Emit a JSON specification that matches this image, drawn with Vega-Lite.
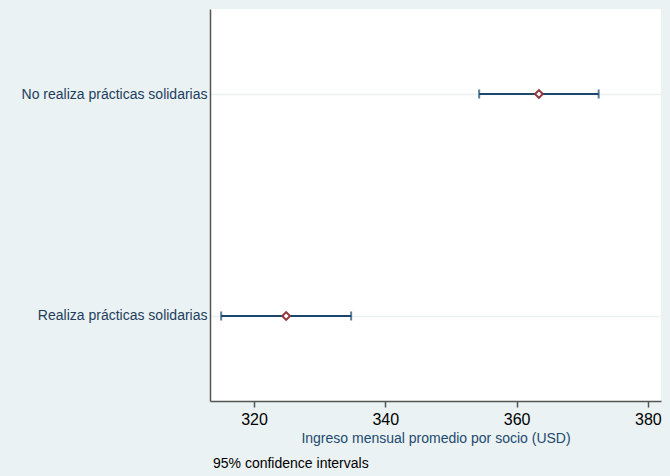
{
  "$schema": "https://vega.github.io/schema/vega-lite/v6.json",
  "background": "#eaf2f3",
  "autosize": {"type": "none"},
  "padding": {"left": 210, "top": 9, "right": 9, "bottom": 75},
  "width": 451,
  "height": 392,
  "view": {"fill": "white", "stroke": null},
  "config": {"font": "Liberation Sans"},
  "title": {
    "text": "95% confidence intervals",
    "orient": "bottom",
    "anchor": "start",
    "frame": "group",
    "offset": 12,
    "dx": 3,
    "fontSize": 14,
    "fontWeight": "normal",
    "color": "black"
  },
  "data": {
    "values": [
      {"grupo": "No realiza prácticas solidarias", "media": 363.4, "inf": 354.3, "sup": 372.5},
      {"grupo": "Realiza prácticas solidarias", "media": 324.9, "inf": 315.0, "sup": 334.8}
    ]
  },
  "encoding": {
    "y": {
      "field": "grupo",
      "type": "nominal",
      "sort": null,
      "scale": {"type": "point", "padding": 0.383},
      "axis": {
        "title": null,
        "domain": true,
        "domainColor": "#555555",
        "domainWidth": 1.5,
        "ticks": false,
        "labelPadding": 3,
        "labelFontSize": 14,
        "labelLimit": 300,
        "labelColor": "#1e3d5c",
        "grid": true,
        "gridColor": "#eaf2f3",
        "gridWidth": 1.5
      }
    }
  },
  "layer": [
    {
      "mark": {"type": "rule", "color": "#1a476f", "strokeWidth": 2},
      "encoding": {
        "x": {
          "field": "inf",
          "type": "quantitative",
          "scale": {"domain": [313.3, 382], "nice": false, "zero": false},
          "axis": {
            "values": [320, 340, 360, 380],
            "title": "Ingreso mensual promedio por socio (USD)",
            "titleFontSize": 14,
            "titleFontWeight": "normal",
            "titleColor": "#1e4a70",
            "titlePadding": 4,
            "labelFontSize": 16,
            "labelColor": "black",
            "labelPadding": 4,
            "domainColor": "#555555",
            "domainWidth": 1.5,
            "tickColor": "#555555",
            "tickWidth": 1.5,
            "tickSize": 6,
            "grid": false
          }
        },
        "x2": {"field": "sup"}
      }
    },
    {
      "mark": {"type": "tick", "color": "#1a476f", "thickness": 2, "size": 9, "orient": "vertical"},
      "encoding": {"x": {"field": "inf", "type": "quantitative"}}
    },
    {
      "mark": {"type": "tick", "color": "#1a476f", "thickness": 2, "size": 9, "orient": "vertical"},
      "encoding": {"x": {"field": "sup", "type": "quantitative"}}
    },
    {
      "mark": {"type": "point", "shape": "diamond", "filled": true, "fill": "white", "stroke": "#90353b", "strokeWidth": 2, "size": 60, "opacity": 1},
      "encoding": {"x": {"field": "media", "type": "quantitative"}}
    }
  ]
}
